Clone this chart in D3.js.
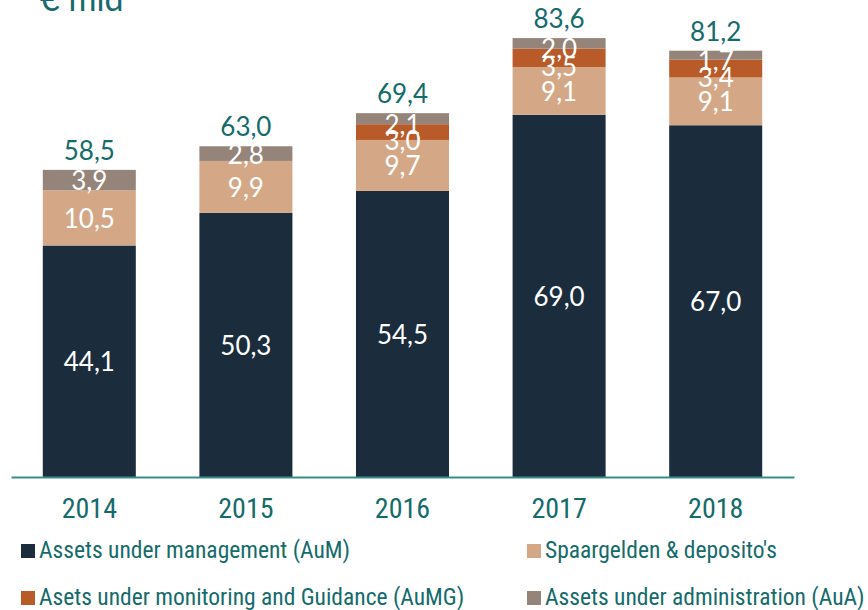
<!DOCTYPE html>
<html>
<head>
<meta charset="utf-8">
<script src="https://cdnjs.cloudflare.com/ajax/libs/d3/7.8.5/d3.min.js"></script>
<style>
  body { margin: 0; background: #fff; }
  svg { display: block; }
  .val { font-family: Lato, "Noto Sans", sans-serif; font-size: 26px; }
  .cond { font-family: "Liberation Sans Narrow", "Roboto Condensed", "Noto Sans", sans-serif; }
</style>
</head>
<body>
<svg width="868" height="610"></svg>
<script>
const years = ['2014', '2015', '2016', '2017', '2018'];
const aum = [44.1, 50.3, 54.5, 69.0, 67.0];
const spaar = [10.5, 9.9, 9.7, 9.1, 9.1];
const aumg = [0, 0, 3.0, 3.5, 3.4];
const aua = [3.9, 2.8, 2.1, 2.0, 1.7];
const totals = [58.5, 63.0, 69.4, 83.6, 81.2];

const seriesNames = [
    'Assets under management (AuM)',
    "Spaargelden & deposito's",
    'Asets under monitoring and Guidance (AuMG)',
    'Assets under administration (AuA)'
];
const colors = ['#1b2d3d', '#d4a887', '#b95a29', '#958479'];
const teal = '#156b6b';

const svg = d3.select('svg');
const fmt = v => v.toFixed(1).replace('.', ',');

const table = years.map((y, i) => ({ year: y, s0: aum[i], s1: spaar[i], s2: aumg[i], s3: aua[i] }));
const stack = d3.stack().keys(['s0', 's1', 's2', 's3'])(table);

const x = d3.scaleBand().domain(years).range([11, 794]).paddingInner(0.406).paddingOuter(0.203);
const y = d3.scaleLinear().domain([0, 90]).range([477, 4.5]);

// segments
const layers = svg.append('g').selectAll('g')
    .data(stack)
    .enter().append('g')
    .attr('fill', (d, i) => colors[i]);

layers.selectAll('rect')
    .data(d => d)
    .enter().append('rect')
    .attr('x', d => x(d.data.year))
    .attr('y', d => y(d[1]))
    .attr('width', x.bandwidth())
    .attr('height', d => y(d[0]) - y(d[1]));

// labels inside segments (small ones pushed down a bit, like the original)
const nudge = [0, 0, 8, 5];
stack.forEach((layer, li) => {
    svg.append('g').selectAll('text')
        .data(layer.filter(d => d[1] - d[0] > 0))
        .enter().append('text')
        .attr('class', 'val')
        .attr('fill', '#fff')
        .attr('text-anchor', 'middle')
        .attr('dominant-baseline', 'central')
        .attr('x', d => x(d.data.year) + x.bandwidth() / 2)
        .attr('y', d => {
            const mid = (y(d[0]) + y(d[1])) / 2;
            return d.data.s2 > 0 ? mid + nudge[li] : mid;
        })
        .text(d => fmt(d[1] - d[0]));
});

// totals
svg.append('g').selectAll('text')
    .data(years)
    .enter().append('text')
    .attr('class', 'val')
    .attr('fill', teal)
    .attr('text-anchor', 'middle')
    .attr('x', d => x(d) + x.bandwidth() / 2)
    .attr('y', (d, i) => y(d3.sum([aum[i], spaar[i], aumg[i], aua[i]])) - 10)
    .text((d, i) => fmt(totals[i]));

// x axis
const xAxis = svg.append('g')
    .attr('transform', 'translate(0,477)')
    .call(d3.axisBottom(x).tickSize(0).tickPadding(21));
xAxis.select('.domain').attr('stroke', '#3a8c8c').attr('stroke-width', 2);
xAxis.selectAll('text')
    .attr('class', 'cond')
    .attr('fill', teal)
    .style('font-size', '28px');

// unit title (cut off at the top in the original)
svg.append('text')
    .attr('x', 40)
    .attr('y', 11)
    .attr('fill', teal)
    .style('font-family', 'Lato, sans-serif')
    .style('font-size', '34px')
    .text('€ mld');

// legend
const legendPos = [[21, 551], [527, 551], [21, 598], [527, 598]];
const legend = svg.append('g').selectAll('g')
    .data(seriesNames)
    .enter().append('g')
    .attr('transform', (d, i) => `translate(${legendPos[i][0]},${legendPos[i][1]})`);
legend.append('rect')
    .attr('y', -7)
    .attr('width', 14)
    .attr('height', 14)
    .attr('fill', (d, i) => colors[i]);
legend.append('text')
    .attr('class', 'cond')
    .attr('x', 18)
    .attr('y', 7)
    .attr('fill', teal)
    .style('font-size', '23.5px')
    .text(d => d);
</script>
</body>
</html>
